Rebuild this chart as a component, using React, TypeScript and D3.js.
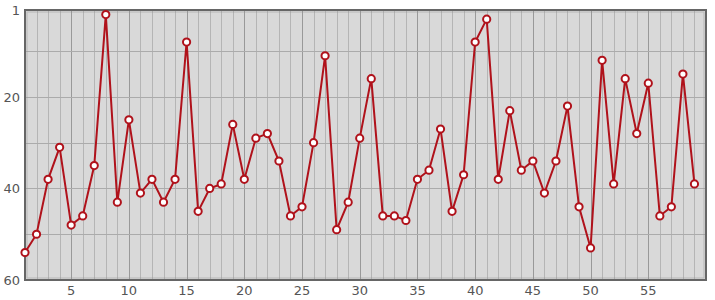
import React from "react";
import * as d3 from "d3";

const xValues: number[] = d3.range(1, 60);
const yValues: number[] = [
  54, 50, 38, 31, 48, 46, 35, 2, 43, 25,
  41, 38, 43, 38, 8, 45, 40, 39, 26, 38,
  29, 28, 34, 46, 44, 30, 11, 49, 43, 29,
  16, 46, 46, 47, 38, 36, 27, 45, 37, 8,
  3, 38, 23, 36, 34, 41, 34, 22, 44, 53,
  12, 39, 16, 28, 17, 46, 44, 15, 39,
];
const xTickLabels: number[] = [5, 10, 15, 20, 25, 30, 35, 40, 45, 50, 55];
const yTickLabels: number[] = [1, 20, 40, 60];
const yGridValues: number[] = [10, 20, 30, 40, 50];

const W = 715;
const H = 300;
const L = 25, R = 706, T = 10, B = 280;

export default function App() {
  const x = d3.scaleLinear().domain([1, 60]).range([L, R]);
  const y = d3.scaleLinear().domain([1, 60]).range([T, B]);
  const data = xValues.map((xv, i) => ({ x: xv, y: yValues[i] }));
  const line = d3.line<{ x: number; y: number }>().x(d => x(d.x)).y(d => y(d.y));
  const vGrid = d3.range(2, 60);
  const font = "'DejaVu Sans', sans-serif";
  return (
    <svg width={W} height={H} style={{ position: "absolute", left: 0, top: 0, display: "block" }}>
      <rect x={L} y={T} width={R - L} height={B - T} fill="#d9d9d9" />
      {vGrid.map(v => (
        <line key={"v" + v} x1={Math.round(x(v)) + 0.5} x2={Math.round(x(v)) + 0.5} y1={T} y2={B}
          stroke={v % 5 === 0 ? "#999999" : "#b5b5b5"} strokeWidth={1} />
      ))}
      {yGridValues.map(v => (
        <line key={"h" + v} x1={L} x2={R} y1={Math.round(y(v)) + 0.5} y2={Math.round(y(v)) + 0.5}
          stroke="#ababab" strokeWidth={1} />
      ))}
      <rect x={L} y={T} width={R - L} height={B - T} fill="none" stroke="#666" strokeWidth={2} />
      <rect x={L + 2} y={T + 2} width={R - L - 4} height={B - T - 4} fill="none" stroke="#9a9a9a" strokeWidth={1} strokeOpacity={0.5} />
      <path d={line(data) || ""} fill="none" stroke="#b0121b" strokeWidth={2} />
      {data.map(d => (
        <circle key={"c" + d.x} cx={x(d.x)} cy={y(d.y)} r={3.6} fill="#ffffff" stroke="#b0121b" strokeWidth={2} />
      ))}
      {yTickLabels.map(v => (
        <text key={"yl" + v} x={20} y={y(v)} dy="0.36em" textAnchor="end" fontFamily={font} fontSize={13} fill="#555">{v}</text>
      ))}
      {xTickLabels.map(v => (
        <text key={"xl" + v} x={x(v)} y={295} textAnchor="middle" fontFamily={font} fontSize={13} fill="#555">{v}</text>
      ))}
    </svg>
  );
}
